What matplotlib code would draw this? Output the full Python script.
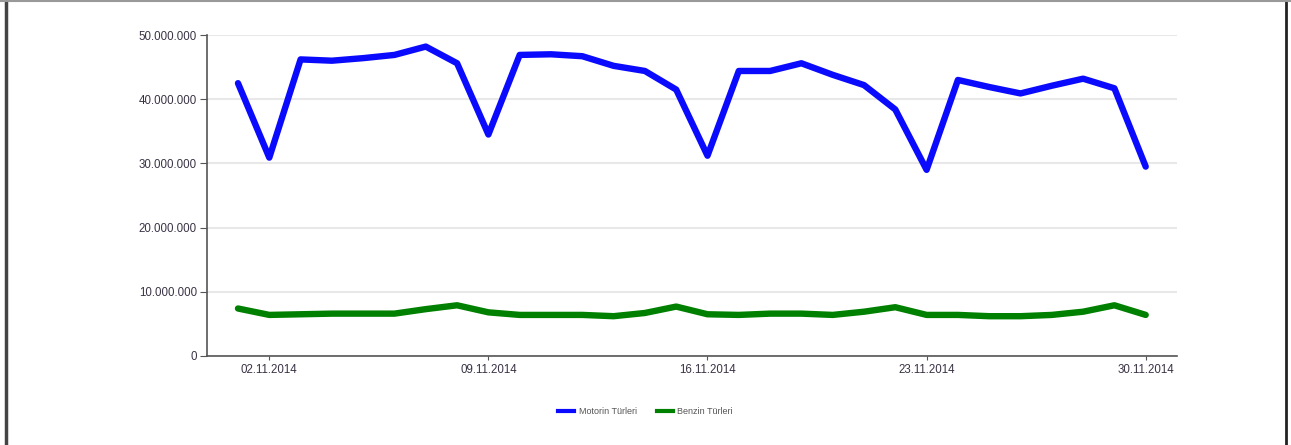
import matplotlib.pyplot as plt
from matplotlib.lines import Line2D
from matplotlib.ticker import FuncFormatter

plt.rcParams['font.family'] = ['Liberation Sans', 'DejaVu Sans']

# günler (Kasım 2014)
days = list(range(1, 31))
date_labels = ['%02d.11.2014' % d for d in days]
tick_days = [2, 9, 16, 23, 30]

# günlük satış (litre)
motorin = [42.5e6, 30.9e6, 46.2e6, 46.0e6, 46.4e6, 46.9e6, 48.2e6, 45.6e6, 34.5e6, 46.9e6,
           47.0e6, 46.7e6, 45.2e6, 44.4e6, 41.5e6, 31.2e6, 44.4e6, 44.4e6, 45.6e6, 43.8e6,
           42.2e6, 38.4e6, 29.0e6, 43.0e6, 41.9e6, 40.9e6, 42.1e6, 43.2e6, 41.7e6, 29.5e6]
benzin = [7.4e6, 6.4e6, 6.5e6, 6.6e6, 6.6e6, 6.6e6, 7.3e6, 7.9e6, 6.8e6, 6.4e6,
          6.4e6, 6.4e6, 6.2e6, 6.7e6, 7.7e6, 6.5e6, 6.4e6, 6.6e6, 6.6e6, 6.4e6,
          6.9e6, 7.6e6, 6.4e6, 6.4e6, 6.2e6, 6.2e6, 6.4e6, 6.9e6, 7.9e6, 6.4e6]
series_names = ['Motorin Türleri', 'Benzin Türleri']
colors = ['#0a0aff', '#008000']

fig = plt.figure(figsize=(12.91, 4.45), dpi=100)
ax = fig.add_axes([0.1601, 0.2, 0.7516, 0.7213])

for vals, name, c in zip([motorin, benzin], series_names, colors):
    ax.plot(days, vals, color=c, lw=4.6, solid_joinstyle='round', solid_capstyle='round',
            label=name, zorder=3)

ax.set_xlim(0, 31)
ax.set_ylim(0, 50e6)
ax.set_yticks([0, 10e6, 20e6, 30e6, 40e6, 50e6])
ax.yaxis.set_major_formatter(FuncFormatter(lambda v, p: '{:,.0f}'.format(v).replace(',', '.')))
ax.set_xticks(tick_days, [date_labels[d - 1] for d in tick_days])

ax.grid(axis='y', color='#e8e8e8', lw=1.5, zorder=0)
for s in ['top', 'right']:
    ax.spines[s].set_visible(False)
for s in ['left', 'bottom']:
    ax.spines[s].set_color('#555555')
    ax.spines[s].set_linewidth(1.2)
ax.tick_params(axis='y', length=5, color='#555555', labelsize=8.3, labelcolor='#3a3345', pad=2)
ax.tick_params(axis='x', length=3, color='#555555', labelsize=8.3, labelcolor='#3a3345', pad=3)

# legend: ince çizgiler
handles = [Line2D([], [], color=c, lw=3) for c in colors]
fig.legend(handles, series_names, loc='center', bbox_to_anchor=(0.5, 0.076), ncol=2,
           frameon=False, fontsize=6.5, handlelength=1.8, handletextpad=0.5,
           columnspacing=2.2, labelcolor='#555555')

# çerçeve
fig.add_artist(Line2D([0.0045, 0.0045], [0, 1], color='#444444', lw=2.5, transform=fig.transFigure))
fig.add_artist(Line2D([0.9965, 0.9965], [0, 1], color='#222222', lw=2, transform=fig.transFigure))
fig.add_artist(Line2D([0, 1], [0.998, 0.998], color='#999999', lw=1.5, transform=fig.transFigure))

plt.savefig('out.png', dpi=100)
